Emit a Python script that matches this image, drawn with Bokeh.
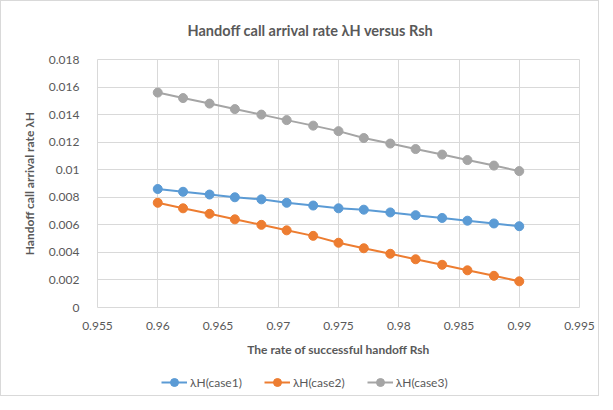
from bokeh.plotting import figure
from bokeh.models import FixedTicker, CustomJSTickFormatter, Legend, LegendItem, Title
from bokeh.layouts import column
from bokeh.embed import file_html
from bokeh.resources import INLINE

rsh = [0.96, 0.9621, 0.9643, 0.9664, 0.9686, 0.9707, 0.9729, 0.975,
       0.9771, 0.9793, 0.9814, 0.9836, 0.9857, 0.9879, 0.99]
case1 = [0.0086, 0.0084, 0.0082, 0.0080, 0.00785, 0.0076, 0.0074, 0.0072,
         0.0071, 0.0069, 0.0067, 0.0065, 0.0063, 0.0061, 0.0059]
case2 = [0.0076, 0.0072, 0.0068, 0.0064, 0.0060, 0.0056, 0.0052, 0.0047,
         0.0043, 0.0039, 0.0035, 0.0031, 0.0027, 0.0023, 0.0019]
case3 = [0.0156, 0.0152, 0.0148, 0.0144, 0.0140, 0.0136, 0.0132, 0.0128,
         0.0123, 0.0119, 0.0115, 0.0111, 0.0107, 0.0103, 0.0099]
series_names = ["λH(case1)", "λH(case2)", "λH(case3)"]
x_ticks = [0.955, 0.96, 0.965, 0.97, 0.975, 0.98, 0.985, 0.99, 0.995]
y_ticks = [0, 0.002, 0.004, 0.006, 0.008, 0.01, 0.012, 0.014, 0.016, 0.018]

FONT = "Lato"
TXT = "#595959"
GRID = "#d9d9d9"
colors = ["#5B9BD5", "#ED7D31", "#A5A5A5"]

p = figure(width=597, height=364, output_backend="svg", toolbar_location=None,
           x_range=(0.955, 0.995), y_range=(0, 0.018),
           min_border_left=96, min_border_right=19, min_border_top=58, min_border_bottom=58)

# real title (outer), spacer title added next to the frame
p.title.text = "Handoff call arrival rate λH versus Rsh"
p.title.text_font = FONT
p.title.text_font_size = "14.5px"
p.title.text_font_style = "bold"
p.title.text_color = TXT
p.title.align = "left"
p.title.offset = 90
p.title.standoff = 0
p.add_layout(Title(text=" ", text_font_size="16px", standoff=2), "above")

p.outline_line_color = GRID

fmt = CustomJSTickFormatter(code="return parseFloat(tick.toFixed(4)).toString();")
for ax in (p.xaxis[0], p.yaxis[0]):
    ax.formatter = fmt
    ax.axis_line_color = None
    ax.major_tick_line_color = None
    ax.minor_tick_line_color = None
    ax.major_label_text_font = FONT
    ax.major_label_text_font_size = "12px"
    ax.major_label_text_color = TXT
    ax.axis_label_text_font = FONT
    ax.axis_label_text_font_size = "12px"
    ax.axis_label_text_font_style = "bold"
    ax.axis_label_text_color = TXT
p.yaxis[0].major_label_standoff = 12
p.xaxis[0].major_label_standoff = 8
p.yaxis[0].axis_label_standoff = 9
p.xaxis[0].axis_label_standoff = 9
p.xaxis[0].ticker = FixedTicker(ticks=x_ticks)
p.yaxis[0].ticker = FixedTicker(ticks=y_ticks)
p.xaxis[0].axis_label = "The rate of successful handoff Rsh"
p.yaxis[0].axis_label = "Handoff call arrival rate λH"

p.xgrid.ticker = FixedTicker(ticks=x_ticks)
p.ygrid.ticker = FixedTicker(ticks=y_ticks)
p.grid.grid_line_color = GRID
p.grid.grid_line_width = 1

for ys, c in zip([case1, case2, case3], colors):
    p.line(rsh, ys, line_color=c, line_width=2)
    p.scatter(rsh, ys, size=9, fill_color=c, line_color=c)

# legend strip below the chart
lg = figure(width=597, height=30, output_backend="svg", toolbar_location=None,
            x_range=(0, 1), y_range=(0, 1),
            x_axis_type=None, y_axis_type=None, min_border=0)
lg.outline_line_color = None
lg.grid.visible = False
items = []
for c, name in zip(colors, series_names):
    l = lg.line(x=[2, 3], y=[2, 3], line_color=c, line_width=2)
    s = lg.scatter(x=[2], y=[2], size=9, fill_color=c, line_color=c)
    items.append(LegendItem(label=name, renderers=[l, s]))
legend = Legend(items=items, orientation="horizontal", location=(64, 3),
                border_line_color=None, background_fill_alpha=0,
                label_text_font=FONT, label_text_font_size="12px",
                label_text_color=TXT, glyph_width=26, spacing=22,
                label_standoff=3, padding=2, margin=0)
lg.add_layout(legend, "center")

page = column(p, lg, spacing=0)
page.styles = {"border": "1px solid #d9d9d9"}

open("out.html", "w").write(file_html(page, INLINE))
